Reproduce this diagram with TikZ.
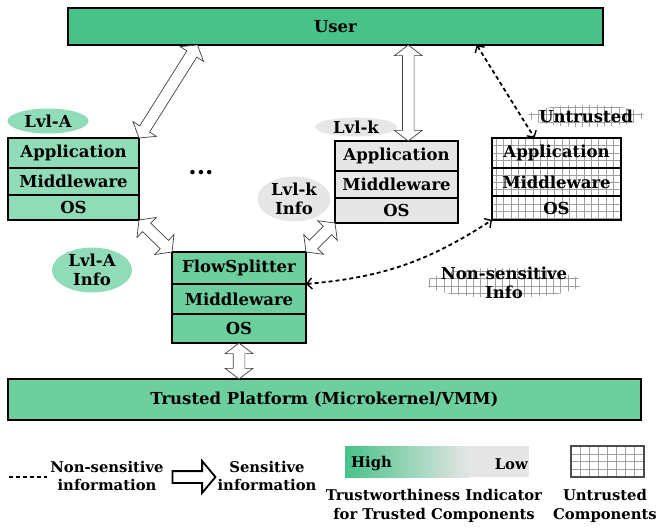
\documentclass[tikz,border=0pt]{standalone}
\usepackage{fontspec}
\setmainfont{DejaVu Serif}
\usetikzlibrary{shapes.arrows,shapes.geometric,arrows.meta,calc}

\definecolor{userg}{HTML}{48C288}
\definecolor{lightg}{HTML}{90DCB8}
\definecolor{midg}{HTML}{6DCF9D}
\definecolor{lgray}{HTML}{E6E6E6}
\definecolor{gridc}{HTML}{A0A0A0}

\pgfdeclarelayer{bg}
\pgfsetlayers{bg,main}

\newcommand\fs{\fontsize{16.5}{19}\selectfont}
\newcommand\fsleg{\fontsize{14.8}{18.5}\selectfont}

\tikzset{
  layer/.style={draw, line width=1.5pt, inner sep=0pt, outer sep=0pt,
    font=\bfseries\fs, anchor=north west},
  bubble/.style={ellipse, inner sep=0pt, font=\bfseries\fs, align=center},
  hollow/.style={double arrow, draw=black!75, fill=white, line width=0.7pt,
    double arrow head extend=8pt, double arrow tip angle=105, inner sep=5.5pt,
    anchor=center, outer sep=0pt},
  nsline/.style={line width=1.8pt, dash pattern=on 4pt off 3pt},
  nsarrow/.style={nsline, {Straight Barb[length=5pt,width=11pt,line width=1.4pt]}-{Straight Barb[length=5pt,width=11pt,line width=1.4pt]}},
  legtext/.style={font=\bfseries\fsleg, align=center, inner sep=0pt},
  gridlines/.style={draw=gridc, line width=0.5pt},
}

% a two-headed hollow arrow between two named points
\newcommand\twoway[2]{%
  \path let \p1=($(#2)-(#1)$), \n1={veclen(\x1,\y1)}, \n2={atan2(\y1,\x1)} in
    node[hollow, minimum height=\n1, rotate=\n2] at ($(#1)!0.5!(#2)$) {};}

% square grid lines over a box: x0, y0, x1, y1, x step, y step
\newcommand\gridbox[6]{%
  \pgfmathsetmacro\gxa{#1+#5}%
  \pgfmathsetmacro\gya{#2+#6}%
  \foreach \gx in {#1,\gxa,...,#3} \draw[gridlines] (\gx,#2) -- (\gx,#4);
  \foreach \gy in {#2,\gya,...,#4} \draw[gridlines] (#1,\gy) -- (#3,\gy);}

\begin{document}
\begin{tikzpicture}[x=1pt,y=-1pt]
\useasboundingbox (0,0) rectangle (658,527);

% ---- user ----
\node[layer, fill=userg, minimum width=535, minimum height=37] (user) at (68,8) {User};

% ---- level A stack ----
\node[layer, fill=lightg, minimum width=131, minimum height=30] (la1) at (8,138) {Application};
\node[layer, fill=lightg, minimum width=131, minimum height=27] (la2) at (la1.south west) {Middleware};
\node[layer, fill=lightg, minimum width=131, minimum height=25] (la3) at (la2.south west) {OS};

% ---- level k stack ----
\node[layer, fill=lgray, minimum width=123, minimum height=30] (lk1) at (335,141) {Application};
\node[layer, fill=lgray, minimum width=123, minimum height=27] (lk2) at (lk1.south west) {Middleware};
\node[layer, fill=lgray, minimum width=123, minimum height=25] (lk3) at (lk2.south west) {OS};

% ---- untrusted stack ----
\node[layer, minimum width=129, minimum height=30] (ut1) at (492,138) {Application};
\node[layer, minimum width=129, minimum height=28] (ut2) at (ut1.south west) {Middleware};
\node[layer, minimum width=129, minimum height=24] (ut3) at (ut2.south west) {OS};

% ---- flow splitter stack ----
\node[layer, fill=midg, minimum width=134, minimum height=32] (fs1) at (172,252) {FlowSplitter};
\node[layer, fill=midg, minimum width=134, minimum height=30] (fs2) at (fs1.south west) {Middleware};
\node[layer, fill=midg, minimum width=134, minimum height=29] (fs3) at (fs2.south west) {OS};

% ---- trusted platform ----
\node[layer, fill=midg, minimum width=633, minimum height=41] (tp) at (8,379) {Trusted Platform (Microkernel/VMM)};

% ---- labels ----
\node[bubble, fill=lightg, minimum width=81, minimum height=25] (lvla) at (48,121) {Lvl-A};
\node[bubble, fill=lightg, minimum width=80, minimum height=44] (infa) at (92,270) {Lvl-A\\Info};
\node[bubble, fill=lgray, minimum width=82, minimum height=19] (lvlk) at (356,127) {Lvl-k};
\node[bubble, fill=lgray, minimum width=73, minimum height=42] (infk) at (294,199) {Lvl-k\\Info};
\node[bubble, minimum width=116, minimum height=22] (untr) at (586,116) {Untrusted};
\node[bubble, minimum width=156, minimum height=30] (nsinfo) at (504,283) {Non-sensitive\\Info};
\node[legtext, font=\bfseries\fontsize{24}{24}\selectfont] (dots) at (201,173) {...};

% grid texture of untrusted parts
\begin{pgfonlayer}{bg}
  \fill[white] (ut1.north west) rectangle (ut3.south east);
  \begin{scope}
    \clip (ut1.north west) rectangle (ut3.south east);
    \gridbox{489}{131}{628}{226}{7.3}{7.3}
  \end{scope}
  \begin{scope}
    \clip (untr.center) ellipse [x radius=58pt, y radius=11pt];
    \gridbox{524}{100}{650}{132}{7.3}{7.3}
  \end{scope}
  \begin{scope}
    \clip (nsinfo.center) ellipse [x radius=78pt, y radius=15pt];
    \gridbox{422}{264}{590}{302}{7.3}{7.3}
  \end{scope}
\end{pgfonlayer}

% ---- connection points on the user bar ----
\coordinate (uA) at ($(user.south west)!0.242!(user.south east)$);
\coordinate (uK) at ($(user.south west)!0.636!(user.south east)$);
\coordinate (uU) at ($(user.south west)!0.764!(user.south east)$);
\coordinate (utop) at ($(ut1.north west)!0.33!(ut1.north east)$);

% ---- sensitive flows ----
\twoway{la1.north east}{uA}
\twoway{uK}{uK |- lk1.north}
\twoway{la3.south east}{fs1.north west}
\twoway{lk3.south west}{fs1.north east}
\twoway{fs3.south}{fs3.south |- tp.north}

% ---- non-sensitive flows ----
\draw[nsarrow] (uU) -- (utop);
\draw[nsarrow] (fs1.south east) to[bend right=14] (ut3.south west);

% ---- legend ----
\draw[nsline] (9,477) coordinate (d0) -- (47,477) coordinate (d1);
\node[legtext] (l1) at (107,476) {Non-sensitive\\information};
\node[single arrow, draw, line width=1.8pt, fill=white, minimum height=43,
  inner sep=5pt, single arrow head extend=10pt, single arrow tip angle=100,
  outer sep=0pt] (larr) at (191.5,477) {};
\node[legtext] (l2) at (267,476) {Sensitive\\information};

\fill[left color=userg, right color=lgray] (345,446) rectangle (470,477);
\fill[lgray] (470,446) rectangle (529,477);
\node[legtext, anchor=west] (hi) at (351,464) {High};
\node[legtext, anchor=east] (lo) at (528,464) {Low};
\node[legtext] (l3) at (434,506) {Trustworthiness Indicator\\for Trusted Components};

\coordinate (gb0) at (571,446);
\coordinate (gb1) at (644,477);
\begin{scope}
  \clip (gb0) rectangle (gb1);
  \gridbox{571}{446}{644}{477}{9.1}{7.75}
\end{scope}
\draw[black!70, line width=1.2pt] (gb0) rectangle (gb1);
\node[legtext] (l4) at (605,506) {Untrusted\\Components};
\end{tikzpicture}
\end{document}
